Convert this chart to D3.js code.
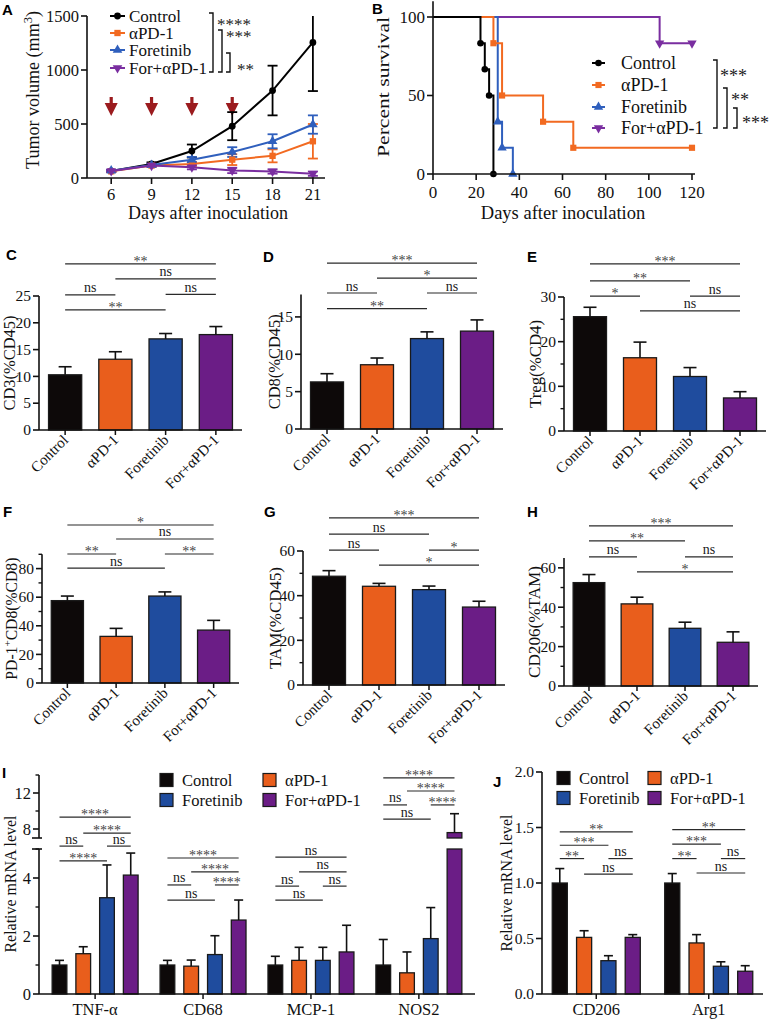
<!DOCTYPE html>
<html><head><meta charset="utf-8">
<script src="https://cdn.jsdelivr.net/npm/d3@7"></script>
<style>body{margin:0;background:#fff} svg text{font-family:'Liberation Serif','Times New Roman',serif}</style>
</head><body><svg id="c" width="770" height="1019"></svg>
<script>
// ---------------- DATA ----------------
const groups = ["Control","αPD-1","Foretinib","For+αPD-1"];
const barColors = ["#0d0909","#e95e1c","#1f4c9e","#6b1d86"];
const lineColors = ["#000000","#f26a21","#2f5fbd","#7a2ea0"];

// Panel A – tumor growth
const daysA = [6,9,12,15,18,21];
const doseDays = [6,9,12,15];
const tumorControl = [65,130,250,480,810,1255];
const tumorPD1 = [62,115,130,170,205,340];
const tumorFor = [68,120,170,240,340,495];
const tumorCombo = [65,115,100,70,60,40];
const tumorControlErr = [10,15,60,130,230,450];
const tumorPD1Err = [8,12,20,50,60,160];
const tumorForErr = [8,12,25,45,65,85];
const tumorComboErr = [8,12,20,25,20,20];
const tumorTicksY = [0,500,1000,1500];
const sigA = ["****","***","**"];

// Panel B – survival (day, percent)
const survControl = [[0,100],[22,83.3],[24,66.7],[26,50],[28,0]];
const survPD1 = [[0,100],[28,83.3],[32,50],[51,33.3],[65,16.7],[120,16.7]];
const survFor = [[0,100],[30,33.3],[32,16.7],[37,0]];
const survCombo = [[0,100],[105,83.3],[120,83.3]];
const survTicksX = [0,20,40,60,80,100,120];
const survTicksY = [0,50,100];
const sigB = ["***","**","***"];

// Panels C–H – flow cytometry (mean, error)
const cd3Mean = [10.3,13.2,17.0,17.8],  cd3Err = [1.5,1.4,1.0,1.5];
const cd8Mean = [6.3,8.6,12.1,13.1],    cd8Err = [1.1,0.9,0.9,1.5];
const tregMean = [25.6,16.4,12.2,7.4],  tregErr = [2.1,3.5,2.0,1.4];
const pd1Mean = [57.6,32.6,60.8,37.0],  pd1Err = [3.2,5.6,2.9,6.8];
const tamMean = [48.7,44.2,42.7,34.9],  tamErr = [2.5,1.3,1.6,2.6];
const cd206Mean = [52.5,41.7,29.3,22.2], cd206Err = [4.1,3.4,3.1,5.3];
// significance: [from group, to group, height (data units), label]
const sigC = [[0,3,31,"**"],[1,3,28.2,"ns"],[0,1,25.2,"ns"],[2,3,25.3,"ns"],[0,2,22.4,"**"]];
const sigD = [[0,3,22.2,"***"],[1,3,20.2,"*"],[0,1,18.2,"ns"],[2,3,18.2,"ns"],[0,2,16.1,"**"]];
const sigE = [[0,3,37.4,"***"],[0,2,33.6,"**"],[0,1,30.2,"*"],[2,3,30.2,"ns"],[1,3,26.9,"ns"]];
const sigF = [[0,3,110.5,"*"],[1,3,100.7,"ns"],[0,1,90.2,"**"],[2,3,90.2,"**"],[0,2,80.4,"ns"]];
const sigG = [[0,3,74.8,"***"],[0,2,67.6,"ns"],[0,1,60.4,"ns"],[2,3,60.4,"*"],[1,3,53.7,"*"]];
const sigH = [[0,3,81.3,"***"],[0,2,73.7,"**"],[0,1,65.6,"ns"],[2,3,65.6,"ns"],[1,3,58,"*"]];

// Panel I – mRNA (per gene, per group)
const genesI = ["TNF-α","CD68","MCP-1","NOS2"];
const mrnaIMean = [[1.0,1.39,3.32,4.1],[1.0,0.96,1.36,2.55],[1.0,1.16,1.16,1.45],[1.0,0.73,1.91,7.6]];
const mrnaIErr  = [[0.16,0.24,1.13,0.76],[0.16,0.21,0.65,0.69],[0.3,0.45,0.45,0.92],[0.88,0.72,1.07,2.1]];
const sigI = [
  [[0,3,6.1,"****"],[1,3,5.55,"****"],[0,1,5.1,"ns"],[2,3,5.1,"ns"],[0,2,4.59,"****"]],
  [[0,3,4.69,"****"],[1,3,4.21,"****"],[0,1,3.76,"ns"],[2,3,3.76,"****"],[0,2,3.24,"ns"]],
  [[0,3,4.72,"ns"],[1,3,4.21,"ns"],[0,1,3.72,"ns"],[2,3,3.72,"ns"],[0,2,3.24,"ns"]],
  [[0,3,7.45,"****"],[1,3,7.0,"****"],[0,1,6.52,"ns"],[2,3,6.52,"****"],[0,2,6.03,"ns"]]
];

// Panel J – mRNA
const genesJ = ["CD206","Arg1"];
const mrnaJMean = [[1.0,0.51,0.30,0.51],[1.0,0.46,0.25,0.205]];
const mrnaJErr  = [[0.13,0.06,0.045,0.025],[0.085,0.075,0.04,0.05]];
const sigJ = [
  [[0,3,1.46,"**"],[0,2,1.34,"***"],[0,1,1.22,"**"],[2,3,1.22,"ns"],[1,3,1.08,"ns"]],
  [[0,3,1.48,"**"],[0,2,1.35,"***"],[0,1,1.22,"**"],[2,3,1.22,"ns"],[1,3,1.09,"ns"]]
];

// ---------------- HELPERS ----------------
const svg = d3.select("#c");
const SERIF = "'Liberation Serif','Times New Roman',serif";
const SANS = "'Liberation Sans',Arial,sans-serif";
const AX = "#111";

function txt(x,y,s,o={}){
  const t = svg.append("text").attr("x",x).attr("y",y)
    .attr("font-family",o.ff||SERIF).attr("font-size",o.fs||15)
    .attr("fill",o.fill||"#111").attr("text-anchor",o.anchor||"start").text(s);
  if(o.weight) t.attr("font-weight",o.weight);
  return t;
}
function ln(x1,y1,x2,y2,w=1.5,c=AX){
  return svg.append("line").attr("x1",x1).attr("y1",y1).attr("x2",x2).attr("y2",y2)
    .attr("stroke",c).attr("stroke-width",w);
}
function letter(t,x,y){ txt(x,y,t,{ff:SANS,fs:15,weight:"bold",fill:"#000"}).style("font-family",SANS); }
function yAxis(x,y,majors,minors,fs,fmt){
  const r=y.range();
  ln(x,r[0],x,r[1],1.6);
  majors.forEach(v=>{ ln(x-6,y(v),x,y(v),1.6); txt(x-8,y(v)+fs*0.34,fmt?fmt(v):v,{fs,anchor:"end"}); });
  minors.forEach(v=>ln(x-3.5,y(v),x,y(v),1.4));
}
function yLabel(x,yc,parts,fs,len){
  const t = svg.append("text").attr("transform",`translate(${x},${yc}) rotate(-90)`)
    .attr("text-anchor","middle").attr("font-family",SERIF).attr("font-size",fs).attr("fill","#111");
  parts.forEach(p=>{
    const ts=t.append("tspan").text(p.t);
    if(p.sup){ ts.attr("dy",-fs*0.4).attr("font-size",fs*0.7); }
    if(p.after){ ts.attr("dy",fs*0.4); }
  });
  if(len) t.attr("textLength",len).attr("lengthAdjust","spacingAndGlyphs");
}
function sig(x1,x2,y,label){
  ln(x1,y,x2,y,1.2,"#2a2a2a");
  const star = label.includes("*");
  txt((x1+x2)/2, star? y+2 : y-2.5, label, {fs:14, anchor:"middle", fill: star?"#444":"#222"});
}
function errBar(cx,y0,y1,hw,w=1.6){ ln(cx,y0,cx,y1,w); ln(cx-hw,y1,cx+hw,y1,w); }

// ---------------- PANEL A ----------------
(function(){
  const x = d3.scaleLinear().domain([4.2,21.9]).range([87,325]);
  const y = d3.scaleLinear().domain([0,1500]).range([178,16]);
  const means=[tumorControl,tumorPD1,tumorFor,tumorCombo];
  const errs=[tumorControlErr,tumorPD1Err,tumorForErr,tumorComboErr];
  const syms=[d3.symbolCircle,d3.symbolSquare,d3.symbolTriangle,d3.symbolTriangle];
  doseDays.forEach(d=>{
    const cx=x(d);
    svg.append("rect").attr("x",cx-1.6).attr("y",97).attr("width",3.2).attr("height",8).attr("fill","#9b1b1e");
    svg.append("path").attr("d",`M${cx-6.5},${103}L${cx+6.5},${103}L${cx},${116}Z`).attr("fill","#9b1b1e");
  });
  means.forEach((m,k)=>{
    daysA.forEach((d,i)=>{
      const top=Math.min(m[i]+errs[k][i],1500);
      ln(x(d),y(m[i]),x(d),y(top),1.8,lineColors[k]);
      if(m[i]+errs[k][i]<=1500) ln(x(d)-5,y(top),x(d)+5,y(top),1.8,lineColors[k]);
      ln(x(d),y(m[i]),x(d),y(m[i]-errs[k][i]),1.8,lineColors[k]);
      ln(x(d)-5,y(m[i]-errs[k][i]),x(d)+5,y(m[i]-errs[k][i]),1.8,lineColors[k]);
    });
  });
  means.forEach((m,k)=>{
    svg.append("path").datum(m).attr("fill","none").attr("stroke",lineColors[k]).attr("stroke-width",2)
      .attr("d",d3.line().x((v,i)=>x(daysA[i])).y(v=>y(v)));
    m.forEach((v,i)=>{
      svg.append("path").attr("d",d3.symbol(syms[k],k==0?36:40)())
        .attr("transform",`translate(${x(daysA[i])},${y(v)})${k==3?" rotate(180)":""}`).attr("fill",lineColors[k]);
    });
  });
  yAxis(87,y,tumorTicksY,[],16.5);
  ln(87,178,325,178,1.6);
  daysA.forEach(d=>{ ln(x(d),178,x(d),184,1.6); txt(x(d),200,d,{fs:16.5,anchor:"middle"}); });
  txt(208,219,"Days after inoculation",{fs:18,anchor:"middle"});
  yLabel(39,90,[{t:"Tumor volume (mm"},{t:"3",sup:true},{t:")",after:true}],18,158);
  groups.forEach((g,k)=>{
    const yy=[16,33,50,68][k];
    ln(110,yy,125,yy,2,lineColors[k]);
    svg.append("path").attr("d",d3.symbol(syms[k],k==0?36:40)()).attr("transform",`translate(117.5,${yy})${k==3?" rotate(180)":""}`).attr("fill",lineColors[k]);
    txt(129,yy+6,g,{fs:17});
  });
  const br=[[213,13],[222,30],[230,53]];
  br.forEach(([bx,by])=>{
    svg.append("path").attr("d",`M${bx-4},${by}H${bx}V72H${bx-4}`).attr("fill","none").attr("stroke","#111").attr("stroke-width",1.4);
  });
  txt(217,30,sigA[0],{fs:17,fill:"#222"});
  txt(226,42,sigA[1],{fs:17,fill:"#222"});
  txt(237,75,sigA[2],{fs:17,fill:"#222"});
  letter("A",2,15);
})();

// ---------------- PANEL B ----------------
(function(){
  const x = d3.scaleLinear().domain([0,120]).range([433,692]);
  const y = d3.scaleLinear().domain([0,110]).range([174,1.3]);
  const data=[survControl,survPD1,survFor,survCombo];
  const syms=[d3.symbolCircle,d3.symbolSquare,d3.symbolTriangle,d3.symbolTriangle];
  [3,2,1,0].forEach(k=>{
    svg.append("path").datum(data[k]).attr("fill","none").attr("stroke",lineColors[k]).attr("stroke-width",2)
      .attr("d",d3.line().x(d=>x(d[0])).y(d=>y(d[1])).curve(d3.curveStepAfter));
  });
  data.forEach((s,k)=>{
    s.slice(1).forEach(d=>{
      svg.append("path").attr("d",d3.symbol(syms[k],k==0?34:38)())
        .attr("transform",`translate(${x(d[0])},${y(d[1])})${k==3?" rotate(180)":""}`).attr("fill",lineColors[k]);
    });
  });
  yAxis(433,y,survTicksY,[],17);
  ln(433,174,695,174,1.6);
  survTicksX.forEach(d=>{ ln(x(d),174,x(d),180,1.6); txt(x(d),198,d,{fs:17,anchor:"middle"}); });
  txt(563,219,"Days after inoculation",{fs:18.5,anchor:"middle"});
  yLabel(389,87,[{t:"Percent survival"}],17,140);
  groups.forEach((g,k)=>{
    const yy=[63,85,107,128][k];
    ln(592,yy,605,yy,2,lineColors[k]);
    svg.append("path").attr("d",d3.symbol(syms[k],k==0?34:38)()).attr("transform",`translate(598.5,${yy})${k==3?" rotate(180)":""}`).attr("fill",lineColors[k]);
    txt(621,yy+6,g,{fs:18});
  });
  const br=[[717,60],[727,88],[737,108]];
  br.forEach(([bx,by])=>{
    svg.append("path").attr("d",`M${bx-4},${by}H${bx}V128H${bx-4}`).attr("fill","none").attr("stroke","#111").attr("stroke-width",1.4);
  });
  txt(720,82,sigB[0],{fs:18,fill:"#222"});
  txt(731,106,sigB[1],{fs:18,fill:"#222"});
  txt(742,129,sigB[2],{fs:18,fill:"#222"});
  letter("B",372,14);
})();

// ---------------- BAR PANELS C–H ----------------
function barPanel(p){
  const x=d3.scaleBand().domain(groups).range([p.x0,p.x1]).paddingInner(0.34).paddingOuter(0.19);
  const y=d3.scaleLinear().domain([0,p.max]).range([p.yb,p.yt]);
  const cx=i=>x(groups[i])+x.bandwidth()/2;
  groups.forEach((g,i)=>{
    const v=p.mean[i], e=p.err[i];
    svg.append("rect").attr("x",x(g)).attr("y",y(v)).attr("width",x.bandwidth()).attr("height",y(0)-y(v))
      .attr("fill",barColors[i]).attr("stroke","#1a1a1a").attr("stroke-width",1.3);
    errBar(cx(i),y(v),y(v+e),6.5);
  });
  yAxis(p.x0,y,p.majors,p.minors,15.5);
  ln(p.x0,p.yb,p.x1,p.yb,1.6);
  groups.forEach((g,i)=>{
    ln(cx(i),p.yb,cx(i),p.yb+5,1.5);
    svg.append("text").attr("transform",`translate(${cx(i)+4},${p.yb+11}) rotate(-45)`).attr("text-anchor","end")
      .attr("font-family",SERIF).attr("font-size",15).attr("fill","#111").text(g);
  });
  p.sig.forEach(([i,j,v,l])=>sig(cx(i),cx(j),y(v),l));
  yLabel(p.lx,(p.yb+p.yt)/2,p.label,16,p.llen);
  letter(p.letter,p.lax,p.lay);
}
barPanel({x0:39,x1:242,yb:430,yt:296,max:25,mean:cd3Mean,err:cd3Err,majors:[0,5,10,15,20,25],minors:[],sig:sigC,
  label:[{t:"CD3(%CD45)"}],lx:15,llen:95,letter:"C",lax:6,lay:260});
barPanel({x0:301,x1:503,yb:429,yt:294.5,max:18,mean:cd8Mean,err:cd8Err,majors:[0,5,10,15],minors:[],sig:sigD,
  label:[{t:"CD8(%CD45)"}],lx:280,llen:95,letter:"D",lax:263,lay:262});
barPanel({x0:564,x1:766,yb:431,yt:297,max:30,mean:tregMean,err:tregErr,majors:[0,10,20,30],minors:[5,15,25],sig:sigE,
  label:[{t:"Treg(%CD4)"}],lx:541,llen:88,letter:"E",lax:527,lay:262});
barPanel({x0:42,x1:239,yb:683,yt:554.3,max:90,mean:pd1Mean,err:pd1Err,majors:[0,20,40,60,80],minors:[10,30,50,70,90],sig:sigF,
  label:[{t:"PD-1"},{t:"+",sup:true},{t:"CD8(%CD8)",after:true}],lx:17,llen:122,letter:"F",lax:3,lay:517});
barPanel({x0:303,x1:505,yb:685,yt:551,max:60,mean:tamMean,err:tamErr,majors:[0,20,40,60],minors:[10,30,50],sig:sigG,
  label:[{t:"TAM(%CD45)"}],lx:281,llen:102,letter:"G",lax:264,lay:517});
barPanel({x0:564,x1:758,yb:686,yt:558,max:65,mean:cd206Mean,err:cd206Err,majors:[0,20,40,60],minors:[10,30,50],sig:sigH,
  label:[{t:"CD206(%TAM)"}],lx:540,llen:112,letter:"H",lax:527,lay:517});

// ---------------- PANEL I ----------------
(function(){
  const x0=d3.scaleBand().domain(genesI).range([39,475]).paddingInner(0.12).paddingOuter(0.08);
  const x1=d3.scaleBand().domain(groups).range([0,x0.bandwidth()]).paddingInner(0.38).paddingOuter(0.19);
  const yLo=d3.scaleLinear().domain([0,5]).range([994,849]);
  const yHi=d3.scaleLinear().domain([7,14]).range([838,775]);
  const cx=(gi,i)=>x0(genesI[gi])+x1(groups[i])+x1.bandwidth()/2;
  genesI.forEach((gene,gi)=>{
    groups.forEach((g,i)=>{
      const v=mrnaIMean[gi][i], e=mrnaIErr[gi][i], bx=x0(gene)+x1(g), bw=x1.bandwidth();
      const lo=Math.min(v,5);
      svg.append("rect").attr("x",bx).attr("y",yLo(lo)).attr("width",bw).attr("height",yLo(0)-yLo(lo))
        .attr("fill",barColors[i]).attr("stroke","#1a1a1a").attr("stroke-width",1.3);
      if(v>5){
        svg.append("rect").attr("x",bx).attr("y",yHi(v)).attr("width",bw).attr("height",yHi(7)-yHi(v))
          .attr("fill",barColors[i]).attr("stroke","#1a1a1a").attr("stroke-width",1.3);
        errBar(cx(gi,i),yHi(v),yHi(v+e),4.5);
      } else errBar(cx(gi,i),yLo(v),yLo(v+e),4.5);
    });
    sigI[gi].forEach(([i,j,v,l])=>sig(cx(gi,i),cx(gi,j),yLo(v),l));
  });
  yAxis(39,yLo,[0,2,4],[1,3,5],16.5);
  yAxis(39,yHi,[8,12],[10,14],16.5);
  ln(32,849,42,849,1.6); ln(32,838,42,838,1.6);
  ln(39,994,475,994,1.6);
  genesI.forEach(g=>{ const c=x0(g)+x0.bandwidth()/2; ln(c,994,c,999,1.5); txt(c,1015,g,{fs:16.5,anchor:"middle"}); });
  yLabel(16,884,[{t:"Relative mRNA level"}],16.5,137);
  const pos=[[160,780],[263,780],[160,800],[263,800]];
  groups.forEach((g,k)=>{
    const [lx,ly]=pos[k];
    svg.append("rect").attr("x",lx).attr("y",ly-6.5).attr("width",13).attr("height",13).attr("fill",barColors[k]).attr("stroke","#1a1a1a").attr("stroke-width",1.2);
    txt(lx+22,ly+6,g,{fs:16.5});
  });
  letter("I",2,778);
})();

// ---------------- PANEL J ----------------
(function(){
  const x0=d3.scaleBand().domain(genesJ).range([542,763]).paddingInner(0.135).paddingOuter(0.05);
  const x1=d3.scaleBand().domain(groups).range([0,x0.bandwidth()]).paddingInner(0.38).paddingOuter(0.19);
  const y=d3.scaleLinear().domain([0,2]).range([994,772]);
  const cx=(gi,i)=>x0(genesJ[gi])+x1(groups[i])+x1.bandwidth()/2;
  genesJ.forEach((gene,gi)=>{
    groups.forEach((g,i)=>{
      const v=mrnaJMean[gi][i], e=mrnaJErr[gi][i];
      svg.append("rect").attr("x",x0(gene)+x1(g)).attr("y",y(v)).attr("width",x1.bandwidth()).attr("height",y(0)-y(v))
        .attr("fill",barColors[i]).attr("stroke","#1a1a1a").attr("stroke-width",1.3);
      errBar(cx(gi,i),y(v),y(v+e),4.5);
    });
    sigJ[gi].forEach(([i,j,v,l])=>sig(cx(gi,i),cx(gi,j),y(v),l));
  });
  yAxis(542,y,[0,0.5,1,1.5,2],[],15.5,d3.format(".1f"));
  ln(542,994,763,994,1.6);
  genesJ.forEach(g=>{ const c=x0(g)+x0.bandwidth()/2; ln(c,994,c,999,1.5); txt(c,1015,g,{fs:16.5,anchor:"middle"}); });
  yLabel(512,883,[{t:"Relative mRNA level"}],16.5,137);
  const pos=[[557,778],[648,778],[557,798],[648,798]];
  groups.forEach((g,k)=>{
    const [lx,ly]=pos[k];
    svg.append("rect").attr("x",lx).attr("y",ly-6.5).attr("width",13).attr("height",13).attr("fill",barColors[k]).attr("stroke","#1a1a1a").attr("stroke-width",1.2);
    txt(lx+22,ly+6,g,{fs:16.5});
  });
  letter("J",493,787);
})();
</script></body></html>
